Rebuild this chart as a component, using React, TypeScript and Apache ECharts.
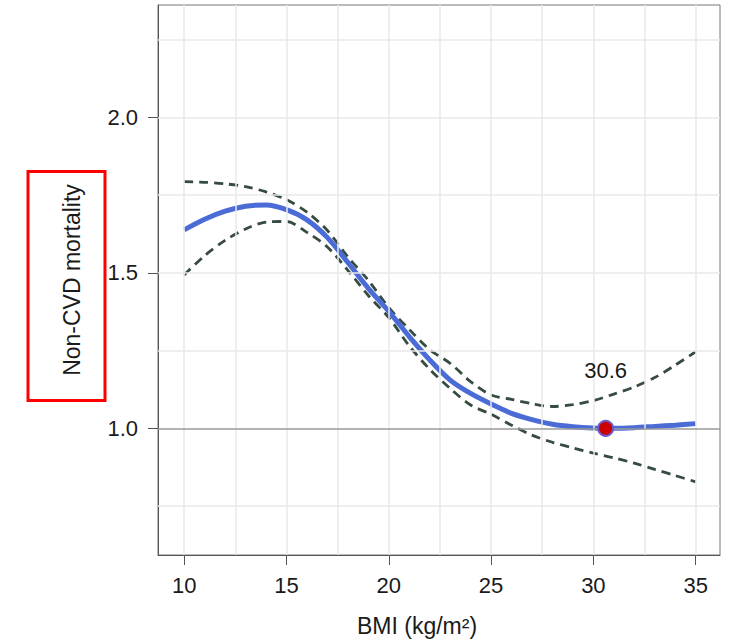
import React, { useEffect, useRef } from "react";
import * as echarts from "echarts";

const bmi = [10, 11, 12, 13, 14, 15, 16, 17, 18, 19, 20, 21, 22, 23, 24, 25, 26, 27, 28, 29, 30, 31, 32, 33, 34, 35];
const estimate = [1.638, 1.672, 1.698, 1.714, 1.718, 1.703, 1.670, 1.613, 1.533, 1.450, 1.376, 1.295, 1.220, 1.155, 1.112, 1.078, 1.048, 1.028, 1.013, 1.005, 1.001, 1.000, 1.002, 1.006, 1.010, 1.015];
const upper = [1.793, 1.791, 1.786, 1.777, 1.760, 1.735, 1.695, 1.636, 1.551, 1.476, 1.388, 1.318, 1.253, 1.209, 1.150, 1.107, 1.093, 1.079, 1.070, 1.076, 1.089, 1.110, 1.133, 1.163, 1.203, 1.246];
const lower = [1.493, 1.555, 1.604, 1.641, 1.663, 1.665, 1.630, 1.583, 1.508, 1.427, 1.356, 1.265, 1.190, 1.128, 1.075, 1.045, 1.010, 0.978, 0.955, 0.937, 0.920, 0.905, 0.888, 0.868, 0.848, 0.828];
const optimum = [30.6, 1.0];
const optimumLabel = "30.6";
const xTicks = [10, 15, 20, 25, 30, 35];
const xGrid = [10, 12.5, 15, 17.5, 20, 22.5, 25, 27.5, 30, 32.5, 35];
const yTicks = [1.0, 1.5, 2.0];
const yGrid = [0.75, 1.25, 1.5, 1.75, 2.0, 2.25];
const refValue = 1.0;
const xName = "BMI (kg/m²)";
const yName = "Non-CVD mortality";

const FONT = "'Liberation Sans', Arial, Helvetica, sans-serif";
const TXT = "#1a1a1a";

export default function App() {
  const ref = useRef<HTMLDivElement>(null);
  useEffect(() => {
    document.body.style.margin = "0";
    const chart = echarts.init(ref.current!, null, { renderer: "svg" });
    const pairs = (ys: number[]) => bmi.map((x, i) => [x, ys[i]]);
    const gridStyle = { color: "#e9e9e9", width: 1.5, type: "solid" as const };
    chart.setOption({
      animation: false,
      backgroundColor: "#ffffff",
      textStyle: { fontFamily: FONT },
      grid: { left: 158, top: 5, width: 562, height: 550, show: true, borderColor: "#777", borderWidth: 1, backgroundColor: "transparent" },
      xAxis: {
        type: "value",
        min: 8.72,
        max: 36.19,
        splitLine: { show: false },
        axisLine: { show: true, lineStyle: { color: "#555", width: 1 } },
        axisTick: { show: true, inside: false, length: 10, customValues: xTicks, lineStyle: { color: "#555", width: 1 } },
        axisLabel: { customValues: xTicks, margin: 19, fontSize: 22, color: TXT, fontFamily: FONT },
      },
      yAxis: {
        type: "value",
        min: 0.5926,
        max: 2.361,
        splitLine: { show: false },
        axisLine: { show: true, lineStyle: { color: "#555", width: 1 } },
        axisTick: { show: true, inside: false, length: 10, customValues: yTicks, lineStyle: { color: "#555", width: 1 } },
        axisLabel: { customValues: yTicks, margin: 20, fontSize: 22, color: TXT, fontFamily: FONT, formatter: (v: number) => v.toFixed(1) },
      },
      series: [
        {
          type: "line",
          data: [],
          z: 1,
          silent: true,
          markLine: {
            silent: true,
            symbol: ["none", "none"],
            label: { show: false },
            lineStyle: gridStyle,
            data: [
              ...xGrid.map((v) => ({ xAxis: v, lineStyle: gridStyle })),
              ...yGrid.map((v) => ({ yAxis: v, lineStyle: gridStyle })),
              { yAxis: refValue, lineStyle: { color: "#9a9a9a", width: 1.5, type: "solid" } },
            ],
          },
        },
        {
          type: "line",
          data: pairs(upper),
          z: 3,
          smooth: 0.3,
          showSymbol: false,
          lineStyle: { color: "#364c40", width: 2.8, type: [9, 6] },
        },
        {
          type: "line",
          data: pairs(lower),
          z: 3,
          smooth: 0.3,
          showSymbol: false,
          lineStyle: { color: "#364c40", width: 2.8, type: [9, 6] },
        },
        {
          type: "line",
          data: pairs(estimate),
          z: 4,
          smooth: 0.3,
          showSymbol: false,
          lineStyle: { color: "#4b6cd6", width: 5 },
        },
        {
          type: "scatter",
          data: [optimum],
          z: 5,
          symbolSize: 15,
          itemStyle: { color: "#cc0000", borderColor: "#6a5ad0", borderWidth: 2, opacity: 1 },
          label: {
            show: true,
            position: "inside",
            offset: [0, -58],
            formatter: optimumLabel,
            fontSize: 22,
            color: TXT,
            opacity: 1,
            textBorderWidth: 0,
            textBorderColor: "transparent",
            fontFamily: FONT,
          },
        },
      ],
      graphic: [
        {
          type: "text",
          x: 417,
          y: 626,
          style: { text: xName, fontSize: 23, fill: TXT, font: `23px ${FONT}`, textAlign: "center", textVerticalAlign: "middle" },
        },
        {
          type: "text",
          x: 72,
          y: 280,
          rotation: Math.PI / 2,
          style: { text: yName, fontSize: 23, fill: TXT, font: `23px ${FONT}`, textAlign: "center", textVerticalAlign: "middle" },
        },
        {
          type: "rect",
          shape: { x: 28, y: 171.5, width: 77, height: 229 },
          style: { fill: "none", stroke: "#ff0000", lineWidth: 3 },
        },
      ],
    });
    return () => chart.dispose();
  }, []);
  return <div ref={ref} style={{ width: 731, height: 640 }} />;
}
